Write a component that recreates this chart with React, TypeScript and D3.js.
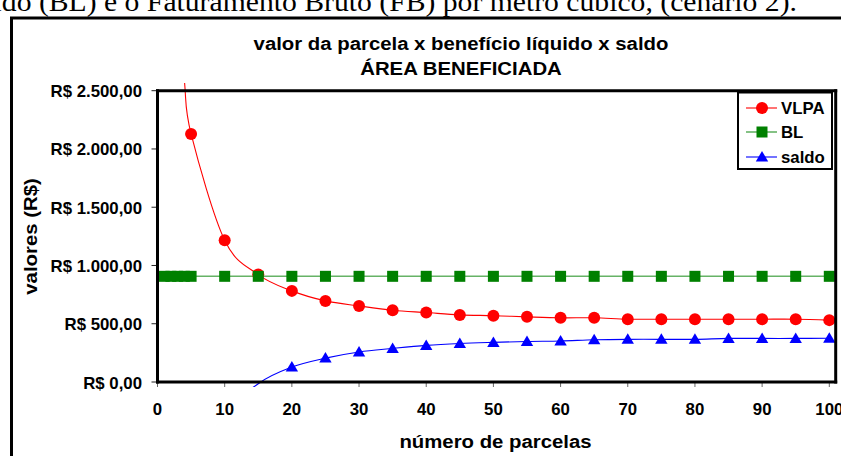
import React from "react";
import * as d3 from "d3";

// number of installments (x) and the three series
const parcelas = [1, 2, 3, 4, 5, 10, 15, 20, 25, 30, 35, 40, 45, 50, 55, 60, 65, 70, 75, 80, 85, 90, 95, 100];
const vlpa = [9500, 4890, 3350, 2590, 2129, 1216, 922, 782, 696, 653, 616, 596, 576, 569, 559, 551, 551, 539, 539, 539, 539, 539, 539, 531];
const bl = [907, 907, 907, 907, 907, 907, 907, 907, 907, 907, 907, 907, 907, 907, 907, 907, 907, 907, 907, 907, 907, 907, 907, 907];
const saldo = [-8593, -3983, -2443, -1683, -1222, -309, -15, 128, 205, 258, 288, 314, 330, 340, 348, 352, 362, 366, 366, 366, 374, 374, 374, 376];

const xTicks = [0, 10, 20, 30, 40, 50, 60, 70, 80, 90, 100];
const yTicks = [0, 500, 1000, 1500, 2000, 2500];
const yTickLabels = ["R$ 0,00", "R$ 500,00", "R$ 1.000,00", "R$ 1.500,00", "R$ 2.000,00", "R$ 2.500,00"];

const seriesNames = ["VLPA", "BL", "saldo"];
const seriesColors = ["#ff0000", "#008000", "#0000ff"];

const chartTitle = "valor da parcela x benefício líquido x saldo";
const chartSubtitle = "ÁREA BENEFICIADA";
const xTitle = "número de parcelas";
const yTitle = "valores (R$)";
const docLine = "Benefício Líquido (BL) e o Faturamento Bruto (FB) por metro cúbico, (cenário 2).";

const W = 841;
const H = 456;
const left = 157.5;
const right = 835.7;
const top = 90.7;
const bottom = 382;

const x = d3.scaleLinear().domain([0, 100]).range([left, 829.3]);
const y = d3.scaleLinear().domain([0, 2500]).range([bottom, top]);

const sans = "'Liberation Sans', Arial, Helvetica, sans-serif";

function T(props: {
  x: number; y: number; size: number; sx?: number; anchor?: string; rotate?: number;
  family?: string; weight?: string; children: React.ReactNode;
}) {
  const { sx = 1.08, anchor = "start", rotate = 0, family = sans, weight = "bold" } = props;
  return (
    <text
      transform={`translate(${props.x},${props.y}) rotate(${rotate}) scale(${sx},1)`}
      fontFamily={family}
      fontWeight={weight}
      fontSize={props.size}
      textAnchor={anchor}
      fill="#000"
    >
      {props.children}
    </text>
  );
}

function Marker({ kind, cx, cy, color }: { kind: number; cx: number; cy: number; color: string }) {
  if (kind === 0) return <circle cx={cx} cy={cy} r={6} fill={color} />;
  if (kind === 1) return <rect x={cx - 5.5} y={cy - 5.5} width={11} height={11} fill={color} />;
  return <path d={`M${cx},${cy - 6}L${cx + 6.2},${cy + 4.5}L${cx - 6.2},${cy + 4.5}Z`} fill={color} />;
}

export default function App() {
  const series = [vlpa, bl, saldo];
  const line = d3
    .line<[number, number]>()
    .x((d) => x(d[0]))
    .y((d) => y(d[1]))
    .curve(d3.curveCardinal.tension(0));

  const legendRows = [108, 132, 157];

  return (
    <svg
      width={W}
      height={H}
      style={{ position: "absolute", left: 0, top: 0, background: "#fff" }}
    >
      <defs>
        <clipPath id="plot-clip">
          <rect x={left - 2} y={83} width={right - left + 4} height={387 - 83} />
        </clipPath>
      </defs>
      <rect width={W} height={H} fill="#fff" />

      {/* line of surrounding document text */}
      <T x={797} y={10.5} size={28} sx={1.06} anchor="end" family="'Liberation Serif', 'Times New Roman', serif" weight="normal">
        {docLine}
      </T>

      {/* chart frame */}
      <rect x={11.5} y={18} width={1000} height={1000} fill="none" stroke="#000" strokeWidth={3} />

      {/* titles */}
      <T x={461} y={50} size={18.5} sx={1.1} anchor="middle">{chartTitle}</T>
      <T x={461} y={75} size={18.5} sx={1.1} anchor="middle">{chartSubtitle}</T>

      {/* y ticks and labels */}
      {yTicks.map((v, i) => (
        <g key={v}>
          <line x1={left - 6} x2={left} y1={y(v)} y2={y(v)} stroke="#222" strokeWidth={1} />
          <T x={142} y={y(v) + 6.5} size={16} sx={1.05} anchor="end">{yTickLabels[i]}</T>
        </g>
      ))}

      {/* x ticks and labels */}
      {xTicks.map((v) => (
        <g key={v}>
          <line x1={x(v)} x2={x(v)} y1={bottom} y2={bottom + 5} stroke="#666" strokeWidth={1} />
          <T x={x(v)} y={415} size={16} sx={1.05} anchor="middle">{v}</T>
        </g>
      ))}

      {/* series */}
      <g clipPath="url(#plot-clip)">
        {series.map((vals, si) => {
          const pts = parcelas.map((p, i) => [p, vals[i]] as [number, number]);
          return (
            <path
              key={si}
              d={line(pts) || ""}
              fill="none"
              stroke={seriesColors[si]}
              strokeWidth={si === 1 ? 1.6 : 1.1}
              strokeOpacity={si === 1 ? 0.6 : 1}
            />
          );
        })}
      </g>
      {series.map((vals, si) => (
        <g key={si}>
          {parcelas.map((p, i) =>
            vals[i] >= 0 && vals[i] <= 2500 ? (
              <Marker key={i} kind={si} cx={x(p)} cy={y(vals[i])} color={seriesColors[si]} />
            ) : null
          )}
        </g>
      ))}

      {/* plot borders / axes */}
      <line x1={left} x2={left} y1={top - 1.5} y2={bottom + 1.5} stroke="#000" strokeWidth={3} />
      <line x1={left - 1.5} x2={right + 1.5} y1={bottom} y2={bottom} stroke="#000" strokeWidth={3} />
      <line x1={left - 1.5} x2={right + 1.5} y1={top} y2={top} stroke="#000" strokeWidth={3} />
      <line x1={right} x2={right} y1={top - 1.5} y2={bottom + 1.5} stroke="#000" strokeWidth={3} />

      {/* axis titles */}
      <T x={495.5} y={448} size={18.5} sx={1.1} anchor="middle">{xTitle}</T>
      <T x={37} y={236.5} size={18.5} sx={1.1} anchor="middle" rotate={-90}>{yTitle}</T>

      {/* legend */}
      <rect x={738} y={92.5} width={94} height={76.5} fill="#fff" stroke="#000" strokeWidth={2} />
      {seriesNames.map((name, si) => (
        <g key={name}>
          <line
            x1={746}
            x2={777}
            y1={legendRows[si]}
            y2={legendRows[si]}
            stroke={seriesColors[si]}
            strokeWidth={si === 1 ? 1.6 : 1.1}
            strokeOpacity={si === 1 ? 0.6 : 1}
          />
          <Marker kind={si} cx={762} cy={legendRows[si]} color={seriesColors[si]} />
          <T x={781} y={legendRows[si] + 6} size={16} sx={1.05}>{name}</T>
        </g>
      ))}
    </svg>
  );
}
